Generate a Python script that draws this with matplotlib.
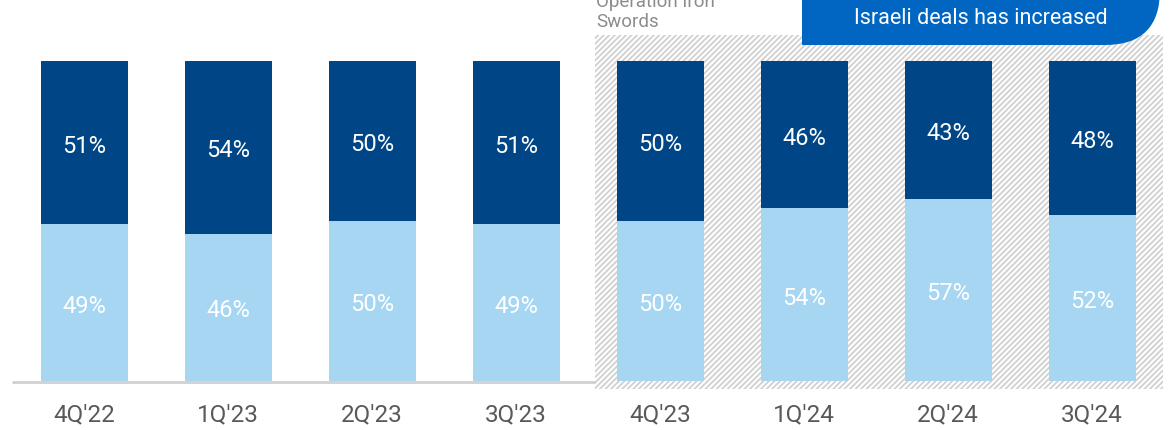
import matplotlib
matplotlib.use("Agg")
import matplotlib.pyplot as plt
from matplotlib.patches import Rectangle, FancyBboxPatch
import numpy as np

plt.rcParams['font.family'] = ['Roboto', 'DejaVu Sans']
plt.rcParams['hatch.linewidth'] = 1.3

quarters = ["4Q'22", "1Q'23", "2Q'23", "3Q'23", "4Q'23", "1Q'24", "2Q'24", "3Q'24"]
light_share = [49, 46, 50, 49, 50, 54, 57, 52]
dark_share = [51, 54, 50, 51, 50, 46, 43, 48]
war_start_index = 4
callout_text = "Israeli deals has increased"
war_label = "Operation Iron\nSwords"

DARK = '#004586'
LIGHT = '#a6d6f2'
CALLOUT = '#0066c2'
TICK = '#595959'
HATCH = '#d0d0d0'

W, H = 1170, 431
fig = plt.figure(figsize=(W / 100, H / 100), dpi=100)
ax = fig.add_axes([0, 0, 1, 1])

# pixel mapping: centers at 84 + 144*i ; value v -> y px = 382 - 3.2 v
step = 144.0
x0 = 84.0
ax.set_xlim(-x0 / step, (W - x0) / step)
ax.set_ylim((382 - H) / 3.2, 382 / 3.2)
ax.axis('off')

x = np.arange(len(quarters))
bw = 87 / step

# hatched war region
hx0 = (595 - x0) / step
hx1 = (1163 - x0) / step
ax.add_patch(Rectangle((hx0, -2.5), hx1 - hx0, 108.1 + 2.5, facecolor='white',
                       edgecolor=HATCH, hatch='//////', linewidth=0, zorder=0))

# baseline
ax.plot([(12 - x0) / step, hx0], [-0.3, -0.3], color='#d0d0d0', lw=2, zorder=1,
        solid_capstyle='butt')

ax.bar(x, light_share, width=bw, color=LIGHT, zorder=2)
ax.bar(x, dark_share, width=bw, bottom=light_share, color=DARK, zorder=2)

dy = -2.5 / 3.2
for i in range(len(quarters)):
    l, d = light_share[i], dark_share[i]
    ax.text(x[i], l / 2 + dy, f"{l}%", ha='center', va='center', color='white',
            fontsize=17, zorder=3)
    ax.text(x[i], l + d / 2 + dy, f"{d}%", ha='center', va='center', color='white',
            fontsize=17, zorder=3)
    ax.text(x[i], (382 - 415) / 3.2, quarters[i], ha='center', va='center',
            color=TICK, fontsize=17.5, zorder=3)

# overlay in pixel coordinates for annotations
ov = fig.add_axes([0, 0, 1, 1], facecolor='none')
ov.set_xlim(0, W)
ov.set_ylim(H, 0)
ov.axis('off')

ov.add_patch(FancyBboxPatch((802, -80), 1160 - 802, 126,
                            boxstyle='round,pad=0,rounding_size=55',
                            facecolor=CALLOUT, edgecolor='none', zorder=4))
ov.add_patch(Rectangle((802, -10), 120, 56, facecolor=CALLOUT, edgecolor='none', zorder=4))
ov.text(981, 19, callout_text, ha='center', va='center', color='white',
        fontsize=15.5, zorder=5)

ov.text(596, 31, war_label, ha='left', va='bottom', color='#8c8c8c',
        fontsize=13.5, linespacing=1.15, zorder=5)

fig.savefig('out.png', dpi=100)
